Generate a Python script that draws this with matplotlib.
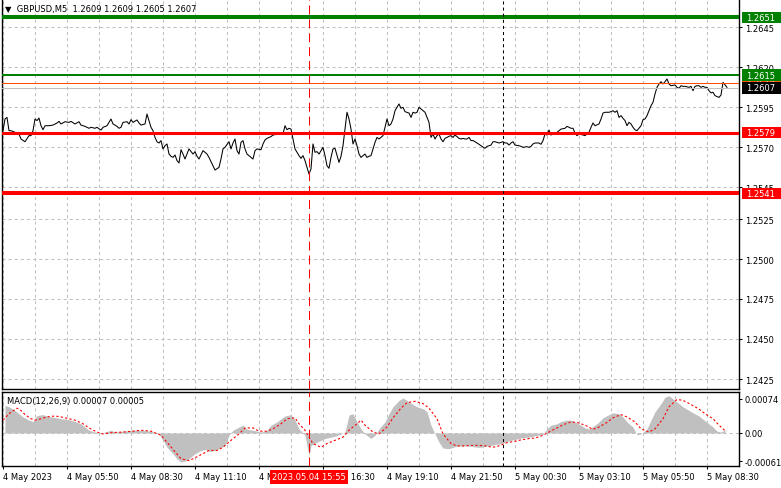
import matplotlib
matplotlib.use("Agg")
import matplotlib.pyplot as plt
import matplotlib.transforms as mtrans
from matplotlib.patches import Rectangle

plt.rcParams['font.family'] = ['DejaVu Sans']
plt.rcParams['lines.scale_dashes'] = False

# ---------------- data ----------------
title_text = "▼  GBPUSD,M5  1.2609 1.2609 1.2605 1.2607"
macd_text = "MACD(12,26,9) 0.00007 0.00005"

# bar index (M5 bars, 0 = 4 May 03:10) and close price
price_idx = [0, 1, 2, 3, 4, 6, 8, 9, 11, 13, 14, 15, 16, 17, 18, 19, 20, 21, 23, 25, 27, 28, 29, 31, 33, 34,
             36, 38, 39, 41, 43, 44, 46, 47, 49, 50, 52, 53, 54, 55, 57, 58, 59, 60, 62, 63, 64, 65, 67, 68,
             69, 71, 72, 73, 74, 75, 76, 77, 78, 79, 80, 81, 82, 83, 84, 85, 86, 87, 88, 89, 90,
             91, 92, 93, 95, 96, 97, 98, 100, 101, 102, 103, 105, 106, 108, 109, 110, 111, 113, 114, 115,
             116, 117, 118, 119, 120, 121, 122, 124, 125, 126, 127, 129, 130, 131, 132, 134, 135, 137, 138,
             140, 141, 142, 143, 144, 145, 146, 147, 148, 149, 150, 151, 152, 153, 154, 155, 156, 157, 158,
             160, 161, 162, 163, 164, 165, 166, 168, 169, 170, 171, 172, 173, 174, 175, 176, 177, 178, 179,
             181, 182, 183,
             184, 185, 186, 187, 188, 190, 191, 192, 193, 194, 195, 196, 198, 199, 200, 201, 203, 204, 205,
             206, 207, 208, 210, 211, 212, 213, 214, 215, 216, 217, 218, 219, 220, 221, 222, 223, 224, 225,
             226, 227, 228, 229, 230, 231, 232, 233, 234, 235, 236, 237, 238, 239, 241, 242, 243, 244, 245,
             246, 247, 248, 249, 250, 251, 252, 253, 254, 255, 256, 258, 259, 260, 261, 262, 263, 264, 265,
             266, 268, 269, 270, 271, 272, 273, 274, 275,
             276, 278, 279, 281, 282, 284, 285, 286, 287, 288, 290, 291, 292, 293, 294, 295, 296, 298, 299,
             300, 301, 303, 304, 305, 306, 307, 308, 309, 310, 311, 312, 313, 314, 315, 316, 317, 319, 320,
             321, 322, 323, 324, 325, 326, 327, 328, 329, 330, 331, 332, 333, 334, 336, 337, 338, 339, 340,
             341, 343, 344, 345, 346, 347, 348, 349, 350, 351, 352, 353, 354, 355, 356, 358, 359, 360, 361, 362]
price_vals = [1.25802, 1.25875, 1.25885, 1.25802, 1.25802, 1.25792, 1.25781, 1.25750, 1.25733, 1.25771,
              1.25771, 1.25802, 1.25875, 1.25865, 1.25881, 1.25833, 1.25808, 1.25833, 1.25833, 1.25837,
              1.25850, 1.25860, 1.25844, 1.25858, 1.25854, 1.25860, 1.25844, 1.25858, 1.25837, 1.25829,
              1.25817, 1.25823, 1.25817, 1.25823, 1.25806, 1.25823, 1.25833, 1.25854, 1.25875, 1.25844,
              1.25829, 1.25817, 1.25823, 1.25854, 1.25858, 1.25844, 1.25871, 1.25854, 1.25869, 1.25850,
              1.25837, 1.25844, 1.25906, 1.25865, 1.25823, 1.25802, 1.25760, 1.25733, 1.25725, 1.25740,
              1.25688, 1.25708, 1.25719, 1.25656, 1.25642, 1.25635, 1.25650, 1.25615, 1.25600, 1.25683,
              1.25656,
              1.25625, 1.25656, 1.25688, 1.25656, 1.25671, 1.25642, 1.25625, 1.25677, 1.25667, 1.25656,
              1.25635, 1.25583, 1.25556, 1.25573, 1.25625, 1.25688, 1.25698, 1.25733, 1.25688, 1.25725,
              1.25750, 1.25677, 1.25656, 1.25729, 1.25740, 1.25688, 1.25656, 1.25635, 1.25625, 1.25677,
              1.25688, 1.25683, 1.25719, 1.25744, 1.25754, 1.25765, 1.25775, 1.25779, 1.25779,
              1.25781, 1.25833, 1.25808, 1.25817, 1.25812, 1.25750, 1.25688, 1.25667, 1.25646, 1.25629,
              1.25646, 1.25615, 1.25573, 1.25531, 1.25563, 1.25719, 1.25667, 1.25671, 1.25656,
              1.25698, 1.25646, 1.25583, 1.25567, 1.25635, 1.25688, 1.25692, 1.25604, 1.25642, 1.25708,
              1.25812, 1.25917, 1.25875, 1.25812, 1.25719, 1.25750, 1.25708, 1.25656, 1.25635,
              1.25656, 1.25635, 1.25642,
              1.25646, 1.25688, 1.25729, 1.25760, 1.25750, 1.25771, 1.25823, 1.25875, 1.25833, 1.25844,
              1.25875, 1.25927, 1.25969, 1.25942, 1.25948, 1.25921, 1.25912, 1.25885, 1.25917,
              1.25912, 1.25917, 1.25948, 1.25927, 1.25917, 1.25885, 1.25854, 1.25760, 1.25781, 1.25750,
              1.25771, 1.25781, 1.25750, 1.25733, 1.25754, 1.25760, 1.25767, 1.25771, 1.25760,
              1.25775, 1.25765, 1.25754, 1.25750, 1.25754, 1.25750, 1.25750, 1.25760, 1.25740, 1.25740,
              1.25733, 1.25725, 1.25717, 1.25708, 1.25692, 1.25704, 1.25708, 1.25712, 1.25733,
              1.25733, 1.25729, 1.25725, 1.25729, 1.25733, 1.25725, 1.25725, 1.25712, 1.25725, 1.25733,
              1.25712, 1.25708, 1.25704, 1.25698, 1.25700, 1.25702, 1.25698, 1.25704, 1.25719,
              1.25725, 1.25725, 1.25717, 1.25740, 1.25781, 1.25775, 1.25806, 1.25775, 1.25781,
              1.25781, 1.25802, 1.25812, 1.25817, 1.25829, 1.25817, 1.25817, 1.25787, 1.25771, 1.25781,
              1.25775, 1.25771, 1.25781, 1.25792, 1.25823, 1.25850, 1.25833, 1.25844, 1.25875,
              1.25912, 1.25917, 1.25917, 1.25921, 1.25927, 1.25917, 1.25927, 1.25885, 1.25896, 1.25879,
              1.25865, 1.25833, 1.25854, 1.25844, 1.25823, 1.25808, 1.25802, 1.25833, 1.25871,
              1.25875, 1.25896, 1.25927, 1.25958, 1.25979, 1.26031, 1.26073, 1.26094, 1.26108, 1.26094,
              1.26108, 1.26125, 1.26094, 1.26083, 1.26088, 1.26073, 1.26067, 1.26083, 1.26079,
              1.26079, 1.26073, 1.26079, 1.26052, 1.26079, 1.26083, 1.26083, 1.26073, 1.26079, 1.26073,
              1.26073, 1.26052, 1.26038, 1.26042, 1.26021, 1.26010, 1.26025, 1.26104, 1.26088, 1.26073]

# MACD histogram (main line) and signal line
hist_idx = [1, 3, 6, 8, 10, 13, 15, 17, 20, 22, 24, 27, 29, 32, 34, 36, 39, 41, 43, 46, 48, 50, 54, 56,
            60, 65, 69, 74, 78, 80, 82, 85, 87, 89, 92, 94, 96, 99, 101, 103, 106, 108, 111, 113, 115,
            118, 120, 122, 125, 127, 129, 132, 134, 137, 139, 141, 144, 146, 148, 151, 152, 153, 154,
            157, 159, 161, 164, 166, 168, 171, 173, 175, 177, 179, 181, 184, 186, 188, 191, 193, 195,
            198, 200, 203, 205, 207, 210, 212, 214, 216, 218, 220, 223, 225, 227, 230, 232, 234, 237,
            239, 241, 244, 246, 249, 251, 253, 256, 258, 260, 263, 265, 267, 270, 272, 274, 277, 279,
            282, 284, 286, 289, 291, 293, 296, 298, 300, 303, 305, 308, 310, 312, 315, 317, 319, 322,
            324, 326, 329, 331, 333, 336, 338, 340, 343, 345, 348, 350, 352, 355, 357, 359, 361]
hist_vals = [0.00060, 0.00057, 0.00049, 0.00042, 0.00035, 0.00028, 0.00025, 0.00038, 0.00040, 0.00037,
             0.00035, 0.00033, 0.00031, 0.00030, 0.00028, 0.00025, 0.00020, 0.00013, 0.00006, 0.00002,
             0.00000, 0.00001, 0.00006, 0.00002, 0.00004, 0.00006, 0.00006, 0.00004, -0.00002, -0.00016,
             -0.00031, -0.00045, -0.00056, -0.00063, -0.00060, -0.00052, -0.00045, -0.00038, -0.00036,
             -0.00040, -0.00038, -0.00034, -0.00027, -0.00005, 0.00006, 0.00013, 0.00017, 0.00008,
             0.00006, 0.00004, 0.00002, 0.00006, 0.00017, 0.00024, 0.00031, 0.00037, 0.00040, 0.00028,
             0.00009, -0.00005, -0.00027, -0.00049, -0.00027, -0.00020, -0.00016, -0.00012, -0.00009,
             -0.00007, -0.00004, 0.00002, 0.00039, 0.00042, 0.00024, 0.00009, -0.00002, -0.00012,
             -0.00005, 0.00009, 0.00024, 0.00042, 0.00057, 0.00071, 0.00076, 0.00068, 0.00062, 0.00057,
             0.00053, 0.00046, 0.00017, -0.00002, -0.00020, -0.00033, -0.00034, -0.00031, -0.00029,
             -0.00028, -0.00028, -0.00029, -0.00031, -0.00031, -0.00029, -0.00027, -0.00025, -0.00023,
             -0.00020, -0.00017, -0.00014, -0.00012, -0.00010, -0.00009, -0.00007, -0.00005, -0.00003,
             0.00009, 0.00017, 0.00020, 0.00025, 0.00028, 0.00028, 0.00024, 0.00017, 0.00011, 0.00009,
             0.00017, 0.00024, 0.00033, 0.00040, 0.00044, 0.00042, 0.00035, 0.00024, 0.00013, -0.00004,
             -0.00002, 0.00009, 0.00028, 0.00046, 0.00064, 0.00078, 0.00081, 0.00071, 0.00064, 0.00057,
             0.00049, 0.00044, 0.00037, 0.00030, 0.00023, 0.00013, 0.00004, 0.00002, 0.00007]
signal_idx = [0, 3, 7, 9, 11, 14, 16, 19, 22, 26, 29, 33, 36, 40, 43, 47, 50, 55, 60, 65, 69, 74, 79, 82,
              86, 89, 93, 96, 100, 103, 107, 110, 114, 118, 121, 125, 128, 132, 135, 139, 142, 146, 148,
              151, 153, 155, 159, 162, 166, 170, 173, 177, 179, 181, 185, 188, 192, 195, 199, 202, 206,
              210, 213, 217, 220, 224, 227, 231, 234, 238, 241, 245, 248, 252, 256, 259, 263, 266, 270,
              273, 277, 280, 284, 287, 291, 295, 298, 302, 305, 309, 312, 316, 319, 323, 326, 330, 333,
              337, 340, 344, 348, 351, 355, 358, 361]
signal_vals = [0.00028, 0.00042, 0.00054, 0.00049, 0.00040, 0.00031, 0.00028, 0.00031, 0.00035, 0.00037,
               0.00035, 0.00031, 0.00028, 0.00020, 0.00011, 0.00002, -0.00002, 0.00001, 0.00002, 0.00004,
               0.00006, 0.00004, -0.00005, -0.00020, -0.00041, -0.00056, -0.00060, -0.00054, -0.00045,
               -0.00038, -0.00038, -0.00031, -0.00016, -0.00002, 0.00011, 0.00011, 0.00004, 0.00004,
               0.00009, 0.00020, 0.00031, 0.00033, 0.00020, 0.00006, -0.00009, -0.00023, -0.00031,
               -0.00023, -0.00016, -0.00009, 0.00006, 0.00020, 0.00028, 0.00017, 0.00002, -0.00002,
               0.00013, 0.00033, 0.00054, 0.00066, 0.00069, 0.00064, 0.00054, 0.00031, -0.00002,
               -0.00023, -0.00028, -0.00028, -0.00027, -0.00027, -0.00028, -0.00031, -0.00028, -0.00021,
               -0.00018, -0.00015, -0.00012, -0.00011, -0.00005, 0.00002, 0.00011, 0.00018, 0.00024,
               0.00023, 0.00017, 0.00008, 0.00013, 0.00023, 0.00033, 0.00040, 0.00035, 0.00024, 0.00009,
               0.00002, 0.00009, 0.00031, 0.00057, 0.00073, 0.00071, 0.00062, 0.00052, 0.00042, 0.00031,
               0.00017, 0.00005]

price_ticks = [1.2645, 1.2620, 1.2595, 1.2570, 1.2545, 1.2525, 1.2500, 1.2475, 1.2450, 1.2425]
macd_ticks = [0.00074, 0.0, -0.00061]
macd_tick_labels = ["0.00074", "0.00", "-0.00061"]

time_tick_idx = [0, 32, 64, 96, 128, 160, 192, 224, 256, 288, 320, 352]
time_labels = ["4 May 2023", "4 May 05:50", "4 May 08:30", "4 May 11:10", "4 May 13:50", "4 May 16:30",
               "4 May 19:10", "4 May 21:50", "5 May 00:30", "5 May 03:10", "5 May 05:50", "5 May 08:30"]

level_prices = [1.2610, 1.2651, 1.2615, 1.2607, 1.2579, 1.2541]
level_labels = ["1.2610", "1.2651", "1.2615", "1.2607", "1.2579", "1.2541"]
crosshair_idx = 153
crosshair_label = "2023.05.04 15:55"
day_separator_idx = 250

# ---------------- styling ----------------
level_colors = ["#FF5000", "#008000", "#008000", "#000000", "#FF0000", "#FF0000"]
line_colors = ["#FF5000", "#008000", "#008000", "#C0C0C0", "#FF0000", "#FF0000"]
line_widths = [0.75, 2.9, 1.45, 0.75, 2.2, 2.9]

W, H = 781, 489
fig = plt.figure(figsize=(W / 100, H / 100), dpi=100)
fig.patch.set_facecolor("white")


def add_px_axes(x0, y0, x1, y1):
    return fig.add_axes([x0 / W, 1 - y1 / H, (x1 - x0) / W, (y1 - y0) / H])


ax = add_px_axes(2, 0, 739, 390)
mx = add_px_axes(2, 393, 739, 467)

for a in (ax, mx):
    a.set_xlim(-0.5, 368)
    a.set_facecolor("white")
    for s in a.spines.values():
        s.set_color("black")
        s.set_linewidth(1.0)
ax.spines["top"].set_visible(False)

ax.set_ylim(1.241875, 1.26625)
mx.set_ylim(-0.000718, 0.000892)

grid_kw = dict(color="#C0C0C0", lw=0.75, ls=(0, (2.2, 2.2)), zorder=0.5)
for g in range(0, 369, 16):
    ax.axvline(g, **grid_kw)
    mx.axvline(g, **grid_kw)
for t in price_ticks:
    ax.axhline(t, **grid_kw)
mx.axhline(0, **grid_kw)

# price
ax.plot(price_idx, price_vals, color="black", lw=0.75, zorder=3)

# horizontal levels
for p, c, w in zip(level_prices, line_colors, line_widths):
    ax.axhline(p, color=c, lw=w, zorder=4)

# MACD
mx.fill_between(hist_idx, 0, hist_vals, color="#C0C0C0", lw=0, zorder=1)
mx.plot(signal_idx, signal_vals, color="#FF0000", lw=0.8, ls=(0, (1.6, 1.6)), zorder=3)

# ticks
ax.yaxis.tick_right()
ax.set_yticks(price_ticks)
ax.set_yticklabels([f"{t:.4f}" for t in price_ticks])
ax.tick_params(axis="y", direction="out", length=2.2, width=0.75, labelsize=6, pad=2.5)
ax.set_xticks([])

mx.yaxis.tick_right()
mx.set_yticks(macd_ticks)
mx.set_yticklabels(macd_tick_labels)
mx.tick_params(axis="y", direction="out", length=2.2, width=0.75, labelsize=6, pad=1.5)
mx.set_xticks(time_tick_idx)
mx.set_xticklabels(time_labels, ha="left")
mx.tick_params(axis="x", direction="out", length=2.2, width=0.75, labelsize=6, pad=2.0)

# crosshair and day separator
for a in (ax, mx):
    a.axvline(crosshair_idx, color="#FF0000", lw=0.75, ls=(0, (6.5, 3.5)), zorder=20)
    a.axvline(day_separator_idx, color="black", lw=0.75, ls=(0, (2.2, 2.2)), zorder=20)

# price label boxes on right scale
trans = mtrans.blended_transform_factory(fig.transFigure, ax.transData)
yr = ax.get_ylim()
box_h = (yr[1] - yr[0]) / 390 * 11.5
z = 10
for p, c, lab in zip(level_prices, level_colors, level_labels):
    fig.add_artist(Rectangle((742 / W, p - box_h / 2), 1 - 742 / W, box_h, transform=trans,
                             facecolor=c, edgecolor="none", zorder=z))
    fig.text(746.5 / W, p, lab, transform=trans, color="white", fontsize=6, va="center",
             ha="left", zorder=z + 1)
    z += 2

# texts
fig.text(5 / W, 1 - 9.5 / H, title_text, fontsize=6, va="center", ha="left", zorder=30)
fig.text(7 / W, 1 - 401.5 / H, macd_text, fontsize=6, va="center", ha="left", zorder=30)
fig.text(309 / W, 1 - 478 / H, crosshair_label, fontsize=6, va="center", ha="center", color="white",
         zorder=30, bbox=dict(boxstyle="square,pad=0.3", fc="#FF0000", ec="none"))

fig.savefig("out.png", dpi=100, facecolor="white")
